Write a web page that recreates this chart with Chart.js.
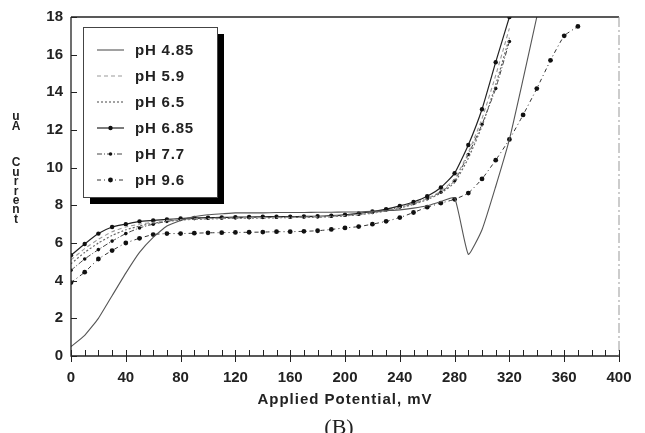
<!DOCTYPE html>
<html>
<head>
<meta charset="utf-8">
<script src="https://cdn.jsdelivr.net/npm/chart.js@4.4.0/dist/chart.umd.min.js"></script>
<style>
  html, body { margin: 0; padding: 0; background: #fff; }
  #wrap { width: 645px; height: 433px; }
</style>
</head>
<body>
<div id="wrap"><canvas id="c" width="645" height="433"></canvas></div>
<script>
// ---- Data ----
const potentialMV = [0,10,20,30,40,50,60,70,80,90,100,110,120,130,140,150,160,170,180,190,200,210,220,230,240,250,260,270,280,290,300,310,320,330,340,350,360,370];
const seriesLabels = ['pH 4.85','pH 5.9','pH 6.5','pH 6.85','pH 7.7','pH 9.6'];
const pH485 = [0.5,1.1,2.0,3.2,4.4,5.5,6.3,6.9,7.2,7.4,7.5,7.55,7.6,7.6,7.6,7.62,7.62,7.62,7.63,7.63,7.65,7.65,7.68,7.72,7.76,7.85,7.98,8.2,8.4,5.4,6.7,9.0,11.5,14.7,18.0];
const pH59  = [5.1,5.7,6.2,6.6,6.85,7.0,7.1,7.2,7.25,7.28,7.3,7.32,7.33,7.34,7.35,7.36,7.37,7.38,7.39,7.42,7.46,7.52,7.6,7.72,7.88,8.08,8.35,8.75,9.4,10.8,12.6,14.9,17.4];
const pH65  = [4.9,5.5,6.0,6.4,6.7,6.9,7.05,7.15,7.22,7.26,7.28,7.3,7.31,7.32,7.33,7.34,7.35,7.36,7.37,7.4,7.44,7.5,7.58,7.7,7.85,8.05,8.3,8.65,9.2,10.5,12.2,14.4,16.9];
const pH685 = [5.35,5.95,6.5,6.85,7.0,7.15,7.2,7.25,7.3,7.33,7.35,7.36,7.37,7.38,7.39,7.4,7.4,7.41,7.42,7.45,7.5,7.57,7.67,7.8,7.97,8.18,8.48,8.95,9.7,11.2,13.1,15.6,18.0];
const pH77  = [4.55,5.15,5.65,6.1,6.5,6.8,7.0,7.15,7.25,7.3,7.32,7.33,7.34,7.35,7.36,7.37,7.38,7.39,7.4,7.43,7.47,7.53,7.62,7.75,7.9,8.1,8.35,8.7,9.3,10.7,12.3,14.2,16.7];
const pH96  = [3.9,4.45,5.15,5.6,6.0,6.25,6.45,6.5,6.5,6.52,6.54,6.55,6.56,6.57,6.58,6.6,6.6,6.62,6.65,6.72,6.8,6.87,7.0,7.15,7.35,7.62,7.9,8.12,8.32,8.65,9.4,10.4,11.5,12.8,14.2,15.7,17.0,17.5];
const xTickValues = [0,40,80,120,160,200,240,280,320,360,400];
const yTickValues = [0,2,4,6,8,10,12,14,16,18];
const xAxisTitle = 'Applied Potential, mV';
const yAxisUnit = 'uA';
const yAxisWord = 'Current';
const caption = '(B)';

function pts(arr) { return arr.map((v, i) => ({ x: potentialMV[i], y: v })); }

const styles = [
  { color: '#555', width: 1.1, dash: [], r: 0 },
  { color: '#9a9a9a', width: 1.1, dash: [4, 3], r: 0 },
  { color: '#666', width: 1.2, dash: [2, 2], r: 0 },
  { color: '#222', width: 1.2, dash: [], r: 2.2 },
  { color: '#444', width: 1.0, dash: [5, 2, 1, 2], r: 1.8 },
  { color: '#333', width: 1.0, dash: [4, 3, 1, 3], r: 2.4 }
];
const seriesData = [pH485, pH59, pH65, pH685, pH77, pH96];

const datasets = seriesData.map((arr, i) => ({
  label: seriesLabels[i],
  data: pts(arr),
  borderColor: styles[i].color,
  borderWidth: styles[i].width,
  borderDash: styles[i].dash,
  pointRadius: styles[i].r,
  pointBackgroundColor: '#111',
  pointBorderColor: '#111',
  pointBorderWidth: 0,
  fill: false,
  tension: 0.15
}));

const FONT = '"Liberation Sans", Arial, sans-serif';

const decor = {
  id: 'decor',
  beforeDatasetsDraw(chart) {
    const ctx = chart.ctx, ca = chart.chartArea;
    ctx.save();
    ctx.beginPath();
    ctx.rect(ca.left, ca.top - 1, ca.right - ca.left, ca.bottom - ca.top + 1);
    ctx.clip();
  },
  afterDatasetsDraw(chart) {
    chart.ctx.restore();
  },
  afterDraw(chart) {
    const ctx = chart.ctx, ca = chart.chartArea;
    const xs = chart.scales.x, ys = chart.scales.y;
    ctx.save();
    // axes frame
    ctx.strokeStyle = '#222';
    ctx.lineWidth = 1.3;
    ctx.setLineDash([]);
    ctx.beginPath();
    ctx.moveTo(ca.left, ca.top); ctx.lineTo(ca.left, ca.bottom); ctx.lineTo(ca.right, ca.bottom);
    ctx.stroke();
    ctx.lineWidth = 1.6;
    ctx.beginPath();
    ctx.moveTo(ca.left, ca.top); ctx.lineTo(ca.right, ca.top);
    ctx.stroke();
    ctx.strokeStyle = '#999';
    ctx.lineWidth = 1;
    ctx.setLineDash([10, 3, 2, 3]);
    ctx.beginPath();
    ctx.moveTo(ca.right, ca.top); ctx.lineTo(ca.right, ca.bottom);
    ctx.stroke();
    ctx.setLineDash([]);
    // x ticks: minor every 10, major every 40
    ctx.strokeStyle = '#222';
    ctx.lineWidth = 1;
    for (let v = 0; v <= 400; v += 10) {
      const px = Math.round(xs.getPixelForValue(v)) + 0.5;
      const major = v % 40 === 0;
      ctx.beginPath();
      ctx.moveTo(px, ca.bottom - 6);
      ctx.lineTo(px, ca.bottom + (major ? 6 : 0));
      ctx.stroke();
    }
    // y ticks
    yTickValues.forEach(v => {
      const py = Math.round(ys.getPixelForValue(v)) + 0.5;
      ctx.beginPath();
      ctx.moveTo(ca.left, py); ctx.lineTo(ca.left + 6, py);
      ctx.stroke();
    });
    // x axis title
    ctx.fillStyle = '#222';
    ctx.letterSpacing = '1px';
    ctx.font = 'bold 15px ' + FONT;
    ctx.textAlign = 'center';
    ctx.textBaseline = 'middle';
    ctx.fillText(xAxisTitle, (ca.left + ca.right) / 2, 400);
    // y axis title (stacked letters)
    ctx.letterSpacing = '0px';
    ctx.font = 'bold 12px ' + FONT;
    yAxisUnit.split('').forEach((ch, i) => ctx.fillText(ch, 16, 117 + i * 9.4));
    yAxisWord.split('').forEach((ch, i) => ctx.fillText(ch, 16, 163 + i * 9.4));
    // caption
    ctx.font = '22px "Liberation Serif", "Times New Roman", serif';
    ctx.textBaseline = 'alphabetic';
    ctx.fillText(caption, 339, 434);
    // legend box with shadow
    const bx = 83, by = 27, bw = 134, bh = 170;
    ctx.fillStyle = '#000';
    ctx.fillRect(bx + 7, by + 7, bw, bh);
    ctx.fillStyle = '#fff';
    ctx.fillRect(bx, by, bw, bh);
    ctx.strokeStyle = '#444';
    ctx.lineWidth = 1;
    ctx.strokeRect(bx + 0.5, by + 0.5, bw, bh);
    const rows = [50, 76, 102, 128, 154, 180];
    chart.data.datasets.forEach((ds, i) => {
      const y = rows[i];
      ctx.strokeStyle = ds.borderColor;
      ctx.lineWidth = ds.borderWidth;
      ctx.setLineDash(ds.borderDash);
      ctx.beginPath();
      ctx.moveTo(97, y); ctx.lineTo(124, y);
      ctx.stroke();
      ctx.setLineDash([]);
      if (ds.pointRadius > 0) {
        ctx.fillStyle = '#111';
        ctx.beginPath();
        ctx.arc(110.5, y, ds.pointRadius, 0, Math.PI * 2);
        ctx.fill();
      }
      ctx.fillStyle = '#222';
      ctx.letterSpacing = '0.8px';
      ctx.font = 'bold 15px ' + FONT;
      ctx.textAlign = 'left';
      ctx.textBaseline = 'middle';
      ctx.fillText(ds.label, 135, y + 1);
    });
    ctx.letterSpacing = '0px';
    ctx.restore();
  }
};

new Chart(document.getElementById('c'), {
  type: 'line',
  data: { datasets },
  options: {
    responsive: false,
    animation: false,
    layout: { padding: { top: 15, right: 26, left: 0, bottom: 0 } },
    plugins: { legend: { display: false }, tooltip: { enabled: false } },
    scales: {
      x: {
        type: 'linear', min: 0, max: 400,
        afterBuildTicks: s => { s.ticks = xTickValues.map(v => ({ value: v })); },
        afterFit: s => { s.height = 77; },
        grid: { display: false, drawTicks: false },
        border: { display: false },
        ticks: { color: '#222', padding: 13, maxRotation: 0, autoSkip: false, font: { family: FONT, size: 15, weight: 'bold' } },
        title: { display: false }
      },
      y: {
        type: 'linear', min: 0, max: 18,
        afterBuildTicks: s => { s.ticks = yTickValues.map(v => ({ value: v })); },
        afterFit: s => { s.width = 71; },
        grid: { display: false, drawTicks: false },
        border: { display: false },
        ticks: { color: '#222', padding: 8, font: { family: FONT, size: 15, weight: 'bold' } }
      }
    }
  },
  plugins: [decor]
});
</script>
</body>
</html>
